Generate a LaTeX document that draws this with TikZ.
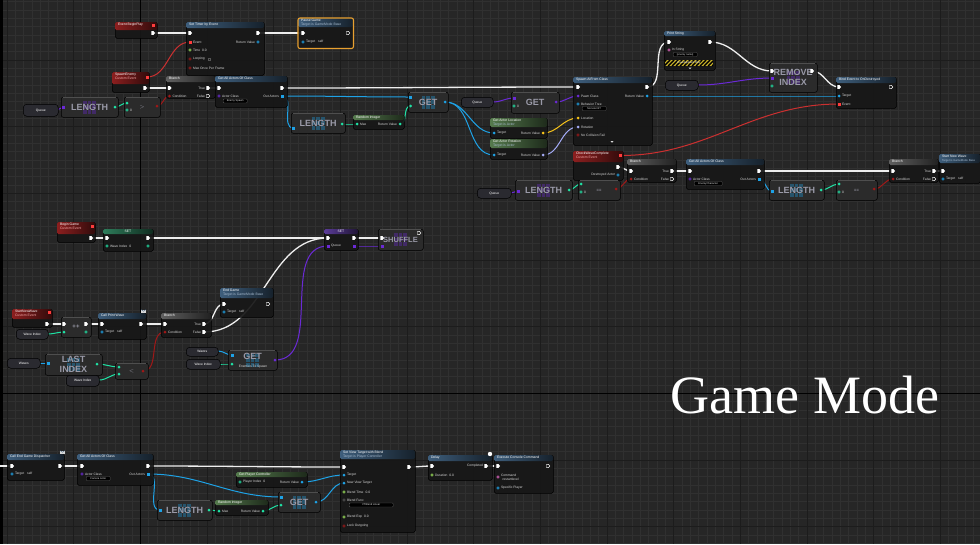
\documentclass[tikz,border=0pt]{standalone}
\usepackage{fontspec}
\setmainfont{Liberation Sans}
\newfontfamily\gmfont{Liberation Serif}
\definecolor{bgc}{HTML}{262626}
\definecolor{minorc}{HTML}{303030}
\definecolor{majorc}{HTML}{1C1C1C}
\definecolor{nodebg}{HTML}{171717}
\definecolor{cpbg}{HTML}{2B2B2B}
\definecolor{cphi}{HTML}{4E4E4E}
\definecolor{cptext}{HTML}{9A9AA8}
\definecolor{varc}{HTML}{2A2A30}
\definecolor{fnc}{HTML}{3E5E7C}
\definecolor{purec}{HTML}{557A4D}
\definecolor{evc}{HTML}{8C1F1F}
\definecolor{brc}{HTML}{606060}
\definecolor{setgc}{HTML}{2E7D5B}
\definecolor{setpc}{HTML}{5B3C99}
\definecolor{objc}{HTML}{1EA2E6}
\definecolor{intc}{HTML}{1FE3A5}
\definecolor{fltc}{HTML}{9BE35A}
\definecolor{boolc}{HTML}{A01818}
\definecolor{clsc}{HTML}{6B2AD6}
\definecolor{vecc}{HTML}{F7C31B}
\definecolor{rotc}{HTML}{A3AAF5}
\definecolor{strc}{HTML}{E063C0}
\definecolor{dlg}{HTML}{FF3C3C}
\definecolor{subc}{HTML}{A8BCD0}
\definecolor{subev}{HTML}{F0A8A8}
\definecolor{lblc}{HTML}{D8D8D8}
\definecolor{selc}{HTML}{E8A030}
\definecolor{ddc}{HTML}{555555}
\definecolor{wirec}{HTML}{EEEEEE}
\definecolor{stripec}{HTML}{C9B22A}
\pgfdeclarelayer{bg}\pgfdeclarelayer{wires}\pgfsetlayers{bg,wires,main}
\newcounter{aux}
\newcommand\ps{\fontsize{3.3}{3.9}\selectfont}
% function-like node: name x y w h headercolor headerheight title
\newcommand\bpfn[8]{%
 \node[bpbody, minimum width=#4pt, minimum height=#5pt] (#1) at (#2,#3) {};
 \shade[left color=#6, right color=#6!35!black, rounded corners=1.5pt] (#2,#3) rectangle (#2+#4,#3+#7);
 \stepcounter{aux}\node[bpttl] (a\theaux) at (#2+2.5,#3+0.7) {#8};}
% compact node: name x y w h text iconcolor
\newcommand\bpcp[7]{%
 \node[bpcbody, minimum width=#4pt, minimum height=#5pt] (#1) at (#2,#3) {};
 \draw[cphi, line width=.5] (#2+2,#3+0.5) -- (#2+#4-2,#3+0.5);
 \foreach \ii in {-1,0,1}{\foreach \jj in {-1,0,1}{\fill[#7, opacity=.35] ({#2+#4/2+\ii*4.6-1.9},{#3+#5/2+\jj*4.6-1.9}) rectangle ++(3.8,3.8);}}
 \stepcounter{aux}\node[bpctext] (a\theaux) at (#2+#4/2,#3+#5/2) {#6};}
% variable pill
\newcommand\bpvar[6]{\node[bpvbody, minimum width=#4pt, minimum height=#5pt] (#1) at (#2,#3) {#6};}
% pins
\newcommand\bpx[3]{\coordinate (#1) at (#2,#3);\fill[white] (#2-1.7,#3-1.8) -- (#2+0.5,#3-1.8) -- (#2+2.1,#3) -- (#2+0.5,#3+1.8) -- (#2-1.7,#3+1.8) -- cycle;}
\newcommand\bphx[3]{\coordinate (#1) at (#2,#3);\draw[white,line width=.45] (#2-1.5,#3-1.6) -- (#2+0.4,#3-1.6) -- (#2+1.9,#3) -- (#2+0.4,#3+1.6) -- (#2-1.5,#3+1.6) -- cycle;}
\newcommand\bpd[4]{\coordinate (#1) at (#2,#3);\fill[#4] (#2,#3) circle (1.5);}
\newcommand\bph[4]{\coordinate (#1) at (#2,#3);\draw[#4,line width=.5] (#2,#3) circle (1.3);}
\newcommand\bps[4]{\coordinate (#1) at (#2,#3);\fill[#4] (#2-1.5,#3-1.5) rectangle (#2+1.5,#3+1.5);}
% labels
\newcommand\bplab[3]{\stepcounter{aux}\node[bppl,anchor=west] (a\theaux) at (#1,#2) {#3};}
\newcommand\bplabr[3]{\stepcounter{aux}\node[bppl,anchor=east] (a\theaux) at (#1,#2) {#3};}
\newcommand\bpdd[4]{\stepcounter{aux}\node[bpddst, minimum width=#3pt, anchor=west] (a\theaux) at (#1,#2) {#4};}
\newcommand\bpchk[2]{\draw[ddc,line width=.3] (#1-1.3,#2-1.3) rectangle (#1+1.3,#2+1.3);}
\newcommand\bpenv[2]{\fill[lblc] (#1,#2) rectangle (#1+5,#2+3.6);\draw[fnc,line width=.3] (#1,#2) -- (#1+2.5,#2+1.8) -- (#1+5,#2);}
\newcommand\bpw[3]{\draw[#1] (#2) to[out=0,in=180] (#3);}
\begin{document}
\begin{tikzpicture}[x=1pt,y=-1pt,
 bpbody/.style={rectangle, rounded corners=1.5pt, anchor=north west, inner sep=0pt, fill=nodebg, fill opacity=.93, draw=black, line width=.5},
 bpcbody/.style={rectangle, rounded corners=2pt, anchor=north west, inner sep=0pt, fill=cpbg, draw=black, line width=.5},
 bpvbody/.style={rectangle, rounded corners=3.5pt, anchor=north west, inner sep=0pt, fill=varc, draw=black, line width=.5, font=\ps, text=white},
 bpttl/.style={anchor=north west, inner sep=0.3pt, font=\fontsize{3.4}{3.9}\selectfont, text=white, align=left},
 bpctext/.style={font=\fontsize{9}{9.5}\selectfont\bfseries, text=cptext, align=center, inner sep=0pt},
 bppl/.style={font=\ps, text=lblc, inner sep=0.3pt},
 bpddst/.style={draw=ddc, fill=black, rounded corners=.8pt, font=\fontsize{2.6}{3}\selectfont, text=lblc!70, inner sep=0.4pt, minimum height=4pt},
 ex/.style={draw=wirec, line width=1.3pt},
 dw/.style={line width=1pt},
 minor/.style={draw=minorc, line width=.4pt},
 major/.style={draw=majorc, line width=.7pt},
 axis/.style={draw=black, line width=1.1pt}]
\useasboundingbox (0,0) rectangle (980,544);
\begin{pgfonlayer}{bg}
\fill[bgc] (0,0) rectangle (980,544);
\foreach \i in {0,...,118} \draw[minor] (\i*8.3333-1.333,0) -- ++(0,544);
\foreach \i in {0,...,66} \draw[minor] (0,\i*8.3333+1.667) -- ++(980,0);
\foreach \i in {0,...,14} \draw[major] (\i*66.667+7,0) -- ++(0,544);
\foreach \i in {0,...,9} \draw[major] (0,\i*66.667-6.667) -- ++(980,0);
\draw[axis] (140.3,0) -- (140.3,544);
\draw[axis] (0,393.3) -- (980,393.3);
\fill[black] (0,0) rectangle (2.5,544);
\end{pgfonlayer}
% ===== top row =====
\bpfn{bp}{115}{22}{42}{16}{evc}{8}{Event BeginPlay}
\bps{bp-d}{153.5}{25}{dlg}
\bpx{bp-out}{153}{33}
\bpfn{st}{186}{22}{78}{53}{fnc}{6}{Set Timer by Event}
\bpx{st-in}{190}{33}\bpx{st-out}{258}{33}
\bps{st-ev}{190}{42}{dlg}\bplab{192.5}{42}{Event}
\bph{st-rv}{258}{42}{objc}\bplabr{255.5}{42}{Return Value}
\bph{st-time}{190}{50}{fltc}\bplab{192.5}{50}{Time\hspace{2pt}0.0}
\bph{st-loop}{190}{59}{boolc}\bplab{192.5}{59}{Looping}\bpchk{209}{59}
\bph{st-max}{190}{68}{boolc}\bplab{192.5}{68}{Max Once Per Frame}
\bpfn{pg}{298}{18}{55}{30}{fnc}{9}{Pause Game\\{\color{subc}Target is GameMode Base}}
\draw[selc, line width=1.1, rounded corners=2pt] (pg.north west) rectangle (pg.south east);
\bpx{pg-in}{303}{33}\bphx{pg-out}{348}{33}
\bph{pg-t}{303}{42}{objc}\bplab{305.5}{42}{Target\hspace{3pt}self}
\bpfn{se}{112}{72}{37}{20}{evc}{12}{SpawnEnemy\\{\color{subev}Custom Event}}
\bps{se-d}{147}{77}{dlg}
\bpx{se-out}{145}{88}
\bpfn{b1}{166}{76}{49}{22}{brc}{6}{Branch}
\bpx{b1-in}{169.5}{88}\bpx{b1-t}{208}{88}\bplabr{205.5}{88}{True}
\bpd{b1-c}{169.5}{96}{boolc}\bplab{172}{96}{Condition}
\bphx{b1-f}{208}{96}\bplabr{205.5}{96}{False}
\bpfn{g1}{215}{76}{72}{31}{fnc}{6}{Get All Actors Of Class}
\bpx{g1-in}{219}{88}\bpx{g1-out}{282}{88}
\bph{g1-ac}{219}{96}{clsc}\bplab{221.5}{96}{Actor Class}
\bpdd{223}{101}{24}{Enemy Spawn}
\bps{g1-oa}{282}{96}{objc}\bplabr{279.5}{96}{Out Actors}
\bpvar{q1}{23}{104}{35}{12}{Queue}
\coordinate (q1-o) at (57,110);
\bpcp{l1}{61}{97}{57}{20}{LENGTH}{clsc}
\bps{l1-in}{63.5}{107}{clsc}\bpd{l1-out}{115}{107}{intc}
\bpcp{c1}{124}{97}{36}{20}{\fontsize{5}{5}\selectfont $>$}{cpbg}
\bpd{c1-a}{127}{103}{intc}\bph{c1-b}{127}{110}{intc}\bplab{129.5}{110}{0}
\bpd{c1-out}{157}{106}{boolc}
\bpcp{l2}{291}{113}{54}{20}{LENGTH}{objc}
\bps{l2-in}{293.5}{128}{objc}\bpd{l2-out}{342}{124}{intc}
\bpfn{r1}{353}{115}{51}{14}{purec}{5}{Random Integer}
\bpd{r1-max}{357}{124}{intc}\bplab{359.5}{124}{Max}
\bpd{r1-rv}{400}{124}{intc}\bplabr{397.5}{124}{Return Value}
\bpcp{gt1}{408}{92}{40}{20}{GET}{objc}
\bps{gt1-arr}{410.5}{97}{objc}\bpd{gt1-idx}{410.5}{106}{intc}\bpd{gt1-out}{445}{102}{objc}
\bpvar{q2}{461}{97}{32}{10}{Queue}
\coordinate (q2-o) at (493,102);
\bpcp{gt2}{511}{92}{48}{21}{GET}{cpbg}
\bps{gt2-arr}{514}{98}{clsc}\bph{gt2-i}{514}{106}{intc}\bplab{516.5}{106}{0}
\bpd{gt2-out}{556}{102}{clsc}
\bpfn{gl}{490}{118}{57}{20}{purec}{9}{Get Actor Location\\{\color{subc}Target is Actor}}
\bpd{gl-t}{494}{133}{objc}\bplab{496.5}{133}{Target}
\bpd{gl-rv}{543}{133}{vecc}\bplabr{540.5}{133}{Return Value}
\bpfn{gr}{490}{139}{57}{20}{purec}{9}{Get Actor Rotation\\{\color{subc}Target is Actor}}
\bpd{gr-t}{494}{155}{objc}\bplab{496.5}{155}{Target}
\bpd{gr-rv}{543}{155}{rotc}\bplabr{540.5}{155}{Return Value}
\bpfn{sa}{573}{77}{79}{68}{fnc}{6}{Spawn AIFrom Class}
\bpx{sa-in}{578}{87}\bpx{sa-out}{647}{87}
\bpd{sa-pc}{578}{96}{clsc}\bplab{580.5}{96}{Pawn Class}
\bpd{sa-rv}{647}{96}{objc}\bplabr{644.5}{96}{Return Value}
\bph{sa-bt}{578}{104}{objc}\bplab{580.5}{104}{Behavior Tree}
\bpdd{582}{108.5}{24}{Monster BT}
\bpd{sa-loc}{578}{118}{vecc}\bplab{580.5}{118}{Location}
\bpd{sa-rot}{578}{127}{rotc}\bplab{580.5}{127}{Rotation}
\bph{sa-ncf}{578}{135}{boolc}\bplab{580.5}{135}{No Collision Fail}
\fill[lblc] (610.5,141) -- (613.5,141) -- (612,142.8) -- cycle;
\bpfn{ps}{664}{31}{51}{39}{fnc}{5}{Print String}
\bpx{ps-in}{669}{42}\bpx{ps-out}{710}{42}
\bph{ps-s}{669}{50}{strc}\bplab{671.5}{50}{In String}\bpdd{673}{54.5}{24}{[enemy name]}
\begin{scope}
\clip (665,60) rectangle (713,66);
\fill[stripec] (665,60) rectangle (713,66);
\foreach \k in {0,...,14} \draw[black, line width=1.4] (660+\k*4,66) -- ++(6,-6);
\end{scope}
\node[font=\fontsize{2.8}{3}\selectfont, text=white, inner sep=0pt] (devonly) at (689,63) {Development Only};
\fill[lblc] (688.5,67.5) -- (691.5,67.5) -- (690,69.2) -- cycle;
\bpvar{q3}{665}{80}{33}{10}{Queue}
\coordinate (q3-o) at (698,85);
\bpcp{rix}{769}{63}{48}{29}{REMOVE\\INDEX}{clsc}
\bpx{rix-in}{772}{71}\bpx{rix-out}{812}{71}
\bps{rix-arr}{772}{78}{clsc}\bph{rix-idx}{772}{86}{intc}
\bpfn{be}{836}{77}{60}{31}{fnc}{6}{Bind Event to OnDestroyed}
\bpx{be-in}{839}{87}\bphx{be-out}{891}{87}
\bpd{be-t}{839}{96}{objc}\bplab{841.5}{96}{Target}
\bps{be-ev}{839}{104}{dlg}\bplab{841.5}{104}{Event}
% ===== check wave row =====
\bpfn{cw}{573}{151}{50}{29}{evc}{11}{CheckWaveComplete\\{\color{subev}Custom Event}}
\bps{cw-d}{620.5}{155.5}{dlg}
\bpx{cw-out}{618}{167}
\bph{cw-da}{618}{175}{objc}\bplabr{615.5}{175}{Destroyed Actor}
\bpvar{q4}{477}{188}{34}{10}{Queue}
\coordinate (q4-o) at (511,193);
\bpcp{l3}{515}{180}{57}{20}{LENGTH}{clsc}
\bps{l3-in}{518}{191}{clsc}\bpd{l3-out}{569}{190}{intc}
\bpcp{c2}{578}{180}{42}{20}{\fontsize{4}{4}\selectfont ==}{cpbg}
\bpd{c2-a}{581}{184}{intc}\bph{c2-b}{581}{192}{intc}\bplab{583.5}{192}{0}
\bpd{c2-out}{616}{189}{boolc}
\bpfn{b2}{627}{159}{49}{23}{brc}{6}{Branch}
\bpx{b2-in}{631}{171}\bpx{b2-t}{672}{171}\bplabr{669.5}{171}{True}
\bpd{b2-c}{631}{179}{boolc}\bplab{633.5}{179}{Condition}
\bphx{b2-f}{672}{179}\bplabr{669.5}{179}{False}
\bpfn{g2}{686}{159}{78}{30}{fnc}{6}{Get All Actors Of Class}
\bpx{g2-in}{690}{171}\bpx{g2-out}{759}{171}
\bph{g2-ac}{690}{179}{clsc}\bplab{692.5}{179}{Actor Class}
\bpdd{694}{183.5}{28}{EnemyCharacter}
\bps{g2-oa}{759}{179}{objc}\bplabr{756.5}{179}{Out Actors}
\bpcp{l4}{769}{180}{55}{20}{LENGTH}{objc}
\bps{l4-in}{772}{191}{objc}\bpd{l4-out}{821}{190}{intc}
\bpcp{c3}{836}{180}{41}{20}{\fontsize{4}{4}\selectfont ==}{cpbg}
\bpd{c3-a}{839}{184}{intc}\bph{c3-b}{839}{192}{intc}\bplab{841.5}{192}{0}
\bpd{c3-out}{874}{189}{boolc}
\bpfn{b3}{889}{159}{49}{23}{brc}{6}{Branch}
\bpx{b3-in}{893}{171}\bpx{b3-t}{934}{171}\bplabr{931.5}{171}{True}
\bpd{b3-c}{893}{179}{boolc}\bplab{895.5}{179}{Condition}
\bphx{b3-f}{934}{179}\bplabr{931.5}{179}{False}
\bpfn{sw}{939}{154}{41}{29}{fnc}{9}{Start New Wave\\{\fontsize{2.8}{3.4}\selectfont\color{subc}Target is GameMode Base}}
\bpx{sw-in}{943}{171}
\bph{sw-t}{943}{179}{objc}\bplab{945.5}{179}{Target\hspace{3pt}self}
% ===== begin game row =====
\bpfn{bgm}{57}{222}{38}{20}{evc}{12}{Begin Game\\{\color{subev}Custom Event}}
\bps{bgm-d}{92.5}{226}{dlg}
\bpx{bgm-out}{91}{238}
\bpfn{sv}{103}{229}{50}{22}{setgc}{5}{}
\node[bpttl, anchor=north] (sv-title) at (128,229.6) {SET};
\bpx{sv-in}{107}{238}\bpx{sv-out}{148}{238}
\bph{sv-wi}{107}{246}{intc}\bplab{109.5}{246}{Wave Index\hspace{2pt}0}
\bph{sv-o}{148}{246}{intc}
\bpfn{sq}{324}{229}{34}{21}{setpc}{5}{}
\node[bpttl, anchor=north] (sq-title) at (341,229.6) {SET};
\bpx{sq-in}{328}{238}\bpx{sq-out}{354}{238}
\bps{sq-qin}{328}{246}{clsc}\bplab{330.5}{246}{Queue}
\bps{sq-qout}{354}{246}{clsc}
\bpcp{sh}{378}{229}{45}{21}{{\fontsize{7.5}{8}\selectfont\bfseries SHUFFLE}}{clsc}
\bpx{sh-in}{382}{238}\bphx{sh-out}{419}{233}
\bps{sh-arr}{382}{246}{clsc}
% ===== start new wave row =====
\bpfn{snw}{12}{309}{40}{18}{evc}{10}{StartNewWave\\{\color{subev}Custom Event}}
\bps{snw-d}{49.5}{312}{dlg}
\bpx{snw-out}{47}{324}
\bpcp{inc}{61}{317}{30}{20}{\fontsize{6}{6}\selectfont ++}{cpbg}
\bpx{inc-in}{64}{324}\bpx{inc-out}{86}{324}
\bpd{inc-int}{64}{332}{intc}\bph{inc-o}{86}{332}{intc}
\bpvar{wi1}{16}{329}{32}{10}{Wave Index}
\coordinate (wi1-o) at (48,334);
\bpfn{cpw}{98}{313}{48}{26}{fnc}{6}{Call Print Wave}
\bpenv{141}{309.5}
\bpx{cpw-in}{102}{324}\bpx{cpw-out}{141}{324}
\bph{cpw-t}{102}{332}{objc}\bplab{104.5}{332}{Target\hspace{3pt}self}
\bpfn{b4}{161}{313}{50}{24}{brc}{6}{Branch}
\bpx{b4-in}{165}{324}\bpx{b4-t}{204}{324}\bplabr{201.5}{324}{True}
\bpd{b4-c}{165}{332}{boolc}\bplab{167.5}{332}{Condition}
\bpx{b4-f}{204}{332}\bplabr{201.5}{332}{False}
\bpfn{eg}{220}{288}{53}{29}{fnc}{10}{End Game\\{\color{subc}Target is GameMode Base}}
\bpx{eg-in}{224}{304}\bphx{eg-out}{268}{304}
\bph{eg-t}{224}{312}{objc}\bplab{226.5}{312}{Target\hspace{3pt}self}
\bpvar{w1}{7}{358}{33}{10}{Waves}
\coordinate (w1-o) at (40,363);
\bpcp{li}{45}{354}{57}{21}{LAST\\INDEX}{objc}
\bps{li-in}{48}{363}{objc}\bpd{li-out}{97}{364}{intc}
\bpvar{wi2}{66}{375}{33}{11}{Wave Index}
\coordinate (wi2-o) at (99,380);
\bpcp{c4}{115}{363}{33}{16}{\fontsize{5}{5}\selectfont $<$}{cpbg}
\bpd{c4-a}{119}{367}{intc}\bpd{c4-b}{119}{374}{intc}\bpd{c4-out}{143}{371}{boolc}
\bpvar{w2}{186}{347}{32}{9}{Waves}
\coordinate (w2-o) at (218,351);
\bpvar{wi3}{186}{359}{34}{10}{Wave Index}
\coordinate (wi3-o) at (220,364);
\node[bpcbody, minimum width=49pt, minimum height=20pt] (ge) at (228,350) {};
\draw[cphi, line width=.5] (230,350.5) -- (275,350.5);
\foreach \ii in {-1,0,1}{\foreach \jj in {-1,0,1}{\fill[objc, opacity=.35] ({252.5+\ii*4.6-1.9},{360+\jj*4.6-1.9}) rectangle ++(3.8,3.8);}}
\node[bpctext] (ge-t) at (252.5,356) {GET};
\node[bppl] (ge-sub) at (253,366.2) {Enemies To Spawn};
\bps{ge-arr}{232}{355}{objc}\bpd{ge-idx}{232}{364}{intc}\bpd{ge-out}{275}{360}{clsc}
% ===== bottom row =====
\coordinate (cd-src) at (0,466);
\bpfn{cd}{7}{454}{57}{26}{fnc}{6}{Call End Game Dispatcher}
\bpenv{60}{450.5}
\bpx{cd-in}{12}{466}\bpx{cd-out}{60}{466}
\bph{cd-t}{12}{474}{objc}\bplab{14.5}{474}{Target\hspace{3pt}self}
\bpfn{g3}{77}{454}{76}{31}{fnc}{6}{Get All Actors Of Class}
\bpx{g3-in}{82}{466}\bpx{g3-out}{148}{466}
\bph{g3-ac}{82}{474}{clsc}\bplab{84.5}{474}{Actor Class}
\bpdd{86}{478.5}{24}{Camera Actor}
\bps{g3-oa}{148}{474}{objc}\bplabr{145.5}{474}{Out Actors}
\bpcp{l5}{157}{500}{55}{20}{LENGTH}{objc}
\bps{l5-in}{160}{510}{objc}\bpd{l5-out}{209}{510}{intc}
\bpfn{r2}{215}{500}{53}{15}{purec}{5}{Random Integer}
\bpd{r2-max}{219}{511}{intc}\bplab{221.5}{511}{Max}
\bpd{r2-rv}{263}{511}{intc}\bplabr{260.5}{511}{Return Value}
\bpfn{pc}{236}{472}{71}{15}{purec}{5}{Get Player Controller}
\bph{pc-pi}{240}{482}{intc}\bplab{242.5}{482}{Player Index\hspace{2pt}0}
\bpd{pc-rv}{302}{482}{objc}\bplabr{299.5}{482}{Return Value}
\bpcp{gt3}{278}{492}{42}{20}{GET}{objc}
\bps{gt3-arr}{281}{497}{objc}\bpd{gt3-idx}{281}{505}{intc}\bpd{gt3-out}{316}{502}{objc}
\bpfn{vt}{340}{450}{75}{82}{fnc}{9}{Set View Target with Blend\\{\color{subc}Target is Player Controller}}
\bpx{vt-in}{344}{467}\bpx{vt-out}{409}{467}
\bpd{vt-t}{344}{475}{objc}\bplab{346.5}{475}{Target}
\bpd{vt-nvt}{344}{483}{objc}\bplab{346.5}{483}{New View Target}
\bph{vt-bt}{344}{492}{fltc}\bplab{346.5}{492}{Blend Time\hspace{2pt}0.0}
\bph{vt-bf}{344}{500}{ddc}\bplab{346.5}{500}{Blend Func}
\bpdd{349}{505}{44}{VTBlend Linear}
\bph{vt-be}{344}{517}{fltc}\bplab{346.5}{517}{Blend Exp\hspace{2pt}0.0}
\bph{vt-lo}{344}{526}{boolc}\bplab{346.5}{526}{Lock Outgoing}
\bpfn{dl}{428}{455}{64}{25}{fnc}{6}{Delay}
\bpx{dl-in}{432}{466}\bpx{dl-out}{486}{466}\bplabr{483.5}{466}{Completed}
\bph{dl-d}{432}{475}{fltc}\bplab{434.5}{475}{Duration\hspace{2pt}0.0}
\fill[white] (490,454) circle (2.2);
\bpfn{ec}{494}{455}{59}{38}{fnc}{6}{Execute Console Command}
\bpx{ec-in}{498}{466}\bphx{ec-out}{548}{466}
\bph{ec-cmd}{498}{477}{strc}\bplab{500.5}{475.5}{Command}\bplab{502}{479.5}{restartlevel}
\bph{ec-sp}{498}{488}{objc}\bplab{500.5}{488}{Specific Player}
% title
\node[text=white, font=\gmfont\fontsize{54}{54}\selectfont, inner sep=0pt] (gm) at (805,395) {Game Mode};
% ===== wires =====
\begin{pgfonlayer}{wires}
\bpw{ex}{bp-out}{st-in}
\bpw{ex}{st-out}{pg-in}
\bpw{ex}{se-out}{b1-in}
\bpw{ex}{b1-t}{g1-in}
\bpw{ex}{g1-out}{sa-in}
\bpw{ex}{sa-out}{ps-in}
\bpw{ex}{ps-out}{rix-in}
\bpw{ex}{rix-out}{be-in}
\bpw{ex}{cw-out}{b2-in}
\bpw{ex}{b2-t}{g2-in}
\bpw{ex}{g2-out}{b3-in}
\bpw{ex}{b3-t}{sw-in}
\bpw{ex}{bgm-out}{sv-in}
\bpw{ex}{sv-out}{sq-in}
\bpw{ex}{sq-out}{sh-in}
\bpw{ex}{snw-out}{inc-in}
\bpw{ex}{inc-out}{cpw-in}
\bpw{ex}{cpw-out}{b4-in}
\bpw{ex}{b4-t}{eg-in}
\bpw{ex}{b4-f}{sq-in}
\bpw{ex}{cd-src}{cd-in}
\bpw{ex}{cd-out}{g3-in}
\bpw{ex}{g3-out}{vt-in}
\bpw{ex}{vt-out}{dl-in}
\bpw{ex}{dl-out}{ec-in}
% delegates and bools
\bpw{dw,draw=dlg!80!black}{se-d}{st-ev}
\bpw{dw,draw=dlg!80!black}{cw-d}{be-ev}
\bpw{dw,draw=boolc}{c1-out}{b1-c}
\bpw{dw,draw=boolc}{c2-out}{b2-c}
\bpw{dw,draw=boolc}{c3-out}{b3-c}
\bpw{dw,draw=boolc}{c4-out}{b4-c}
% class / array purple
\bpw{dw,draw=clsc}{q1-o}{l1-in}
\bpw{dw,draw=clsc}{q2-o}{gt2-arr}
\bpw{dw,draw=clsc}{gt2-out}{sa-pc}
\bpw{dw,draw=clsc}{q3-o}{rix-arr}
\bpw{dw,draw=clsc}{q4-o}{l3-in}
\bpw{dw,draw=clsc}{ge-out}{sq-qin}
\bpw{dw,draw=clsc}{sq-qout}{sh-arr}
% object blue
\bpw{dw,draw=objc}{g1-oa}{gt1-arr}
\bpw{dw,draw=objc}{g1-oa}{l2-in}
\bpw{dw,draw=objc}{gt1-out}{gl-t}
\bpw{dw,draw=objc}{gt1-out}{gr-t}
\bpw{dw,draw=objc}{sa-rv}{be-t}
\bpw{dw,draw=objc}{g2-oa}{l4-in}
\bpw{dw,draw=objc}{w1-o}{li-in}
\bpw{dw,draw=objc}{w2-o}{ge-arr}
\bpw{dw,draw=objc}{g3-oa}{gt3-arr}
\bpw{dw,draw=objc}{g3-oa}{l5-in}
\bpw{dw,draw=objc}{gt3-out}{vt-nvt}
\bpw{dw,draw=objc}{pc-rv}{vt-t}
% integer green
\bpw{dw,draw=intc}{l1-out}{c1-a}
\bpw{dw,draw=intc}{l2-out}{r1-max}
\bpw{dw,draw=intc}{r1-rv}{gt1-idx}
\bpw{dw,draw=intc}{l3-out}{c2-a}
\bpw{dw,draw=intc}{l4-out}{c3-a}
\bpw{dw,draw=intc}{wi1-o}{inc-int}
\bpw{dw,draw=intc}{li-out}{c4-a}
\bpw{dw,draw=intc}{wi2-o}{c4-b}
\bpw{dw,draw=intc}{wi3-o}{ge-idx}
\bpw{dw,draw=intc}{l5-out}{r2-max}
\bpw{dw,draw=intc}{r2-rv}{gt3-idx}
% vector / rotator
\bpw{dw,draw=vecc}{gl-rv}{sa-loc}
\bpw{dw,draw=rotc}{gr-rv}{sa-rot}
\end{pgfonlayer}
\end{tikzpicture}
\end{document}
